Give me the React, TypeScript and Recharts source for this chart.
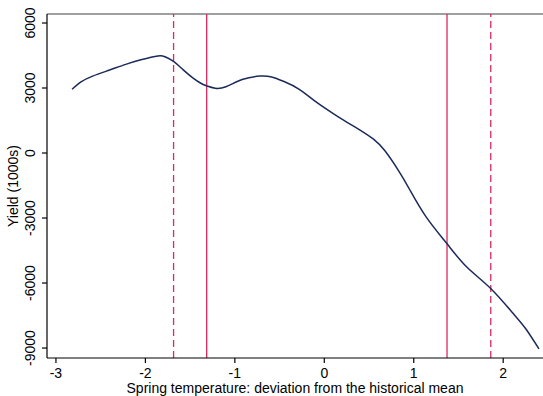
import React from "react";
import { LineChart, Line, XAxis, YAxis, ReferenceLine, Label } from "recharts";

const xValues = [-2.82, -2.72, -2.59, -2.4, -2.22, -2.05, -1.86, -1.78, -1.69, -1.58, -1.47, -1.38, -1.31, -1.22, -1.1, -0.91, -0.72, -0.6, -0.45, -0.28, -0.1, 0.1, 0.25, 0.4, 0.55, 0.68, 0.84, 0.96, 1.14, 1.37, 1.59, 1.86, 2.11, 2.25, 2.4];
const yieldValues = [2940, 3280, 3550, 3830, 4090, 4300, 4480, 4440, 4240, 3850, 3470, 3220, 3090, 2990, 3060, 3400, 3550, 3520, 3300, 2940, 2380, 1820, 1430, 1060, 640, 90, -880, -1730, -2960, -4180, -5250, -6250, -7400, -8100, -9040];
const xTicks = [-3, -2, -1, 0, 1, 2];
const yTicks = [-9000, -6000, -3000, 0, 3000, 6000];
const solidLines = [-1.315, 1.372];
const dashedLines = [-1.685, 1.861];
const xDomain = [-3.1, 2.445];
const yDomain = [-9460, 6415];

const data = xValues.map((x, i) => ({ x, y: yieldValues[i] }));

const FONT = "'Liberation Sans', Arial, Helvetica, sans-serif";
const RED = "#dc2a5f";

const XTick = (props: any) => {
  const { x, payload } = props;
  const y = 358;
  return (
    <g>
      <line x1={x} x2={x} y1={y} y2={y + 5} stroke="#000" strokeWidth={1.2} />
      <text x={x} y={y + 20} textAnchor="middle" fontSize={14} fontFamily={FONT} fill="#000">
        {payload.value}
      </text>
    </g>
  );
};

const YTick = (props: any) => {
  const { y, payload } = props;
  const tx = 30;
  return (
    <g>
      <line x1={42} x2={47} y1={y} y2={y} stroke="#000" strokeWidth={1.2} />
      <text
        x={tx}
        y={y}
        dy="0.35em"
        transform={`rotate(-90 ${tx} ${y})`}
        textAnchor="middle"
        fontSize={14}
        fontFamily={FONT}
        fill="#000"
      >
        {payload.value}
      </text>
    </g>
  );
};

export default function App() {
  return (
    <div style={{ position: "absolute", left: 0, top: 0, background: "#fff" }}>
      <LineChart width={543} height={396} data={data} margin={{ top: 14, right: 0, left: 0, bottom: 0 }}>
        <XAxis
          type="number"
          dataKey="x"
          domain={xDomain}
          ticks={xTicks}
          allowDataOverflow
          height={38}
          tickLine={false}
          tickSize={0}
          tickMargin={0}
          tick={<XTick />}
          axisLine={{ stroke: "#000", strokeWidth: 1.2 }}
          interval={0}
        >
          <Label
            value="Spring temperature: deviation from the historical mean"
            position="insideBottom"
            offset={3}
            style={{ fontSize: 14, fontFamily: FONT, fill: "#000" }}
          />
        </XAxis>
        <YAxis
          type="number"
          domain={yDomain}
          ticks={yTicks}
          allowDataOverflow
          width={47}
          tickLine={false}
          tickSize={0}
          tickMargin={0}
          tick={<YTick />}
          axisLine={{ stroke: "#000", strokeWidth: 1.2 }}
          interval={0}
        >
          <Label
            content={() => (
              <text
                x={13}
                y={186}
                dy="0.35em"
                transform="rotate(-90 13 186)"
                textAnchor="middle"
                fontSize={14}
                fontFamily={FONT}
                fill="#000"
              >
                Yield (1000s)
              </text>
            )}
          />
        </YAxis>
        <ReferenceLine y={yDomain[1]} stroke="#7f7f7f" strokeWidth={1.6} ifOverflow="visible" />
        {solidLines.map((v) => (
          <ReferenceLine key={"s" + v} x={v} stroke={RED} strokeWidth={1.3} />
        ))}
        {dashedLines.map((v) => (
          <ReferenceLine key={"d" + v} x={v} stroke={RED} strokeWidth={1.3} strokeDasharray="7 4" />
        ))}
        <Line
          type="natural"
          dataKey="y"
          stroke="#1b2a5a"
          strokeWidth={1.5}
          dot={false}
          isAnimationActive={false}
        />
      </LineChart>
    </div>
  );
}
